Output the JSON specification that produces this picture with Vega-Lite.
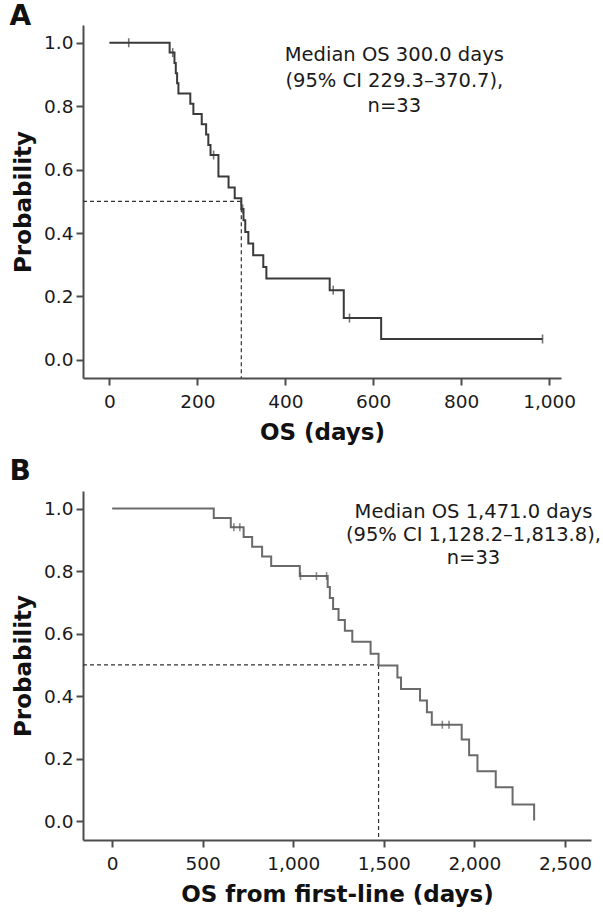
{
  "$schema": "https://vega.github.io/schema/vega-lite/v6.json",
  "background": "white",
  "padding": {"left": 9, "top": 3, "right": 0, "bottom": 0},
  "spacing": 13,
  "config": {
    "font": "DejaVu Sans",
    "view": {"stroke": null},
    "axis": {
      "grid": false,
      "domainColor": "#4d4d4d",
      "domainWidth": 2,
      "tickColor": "#4d4d4d",
      "tickWidth": 2,
      "tickSize": 7,
      "labelFont": "DejaVu Sans",
      "labelFontSize": 18.5,
      "labelColor": "#1a1a1a",
      "titleFont": "DejaVu Sans",
      "titleFontSize": 23,
      "titleFontWeight": "bold",
      "titleColor": "#111111"
    },
    "axisY": {"titlePadding": 8, "labelPadding": 3},
    "axisX": {"titlePadding": 11, "labelPadding": 7, "labelFlush": false, "labelOverlap": false},
    "title": {"fontSize": 28, "fontWeight": "bold", "anchor": "start", "frame": "bounds", "color": "#111111", "font": "DejaVu Sans"}
  },
  "datasets": {
    "kmA": [
      {"time": 0, "surv": 1.0}, {"time": 137, "surv": 0.969}, {"time": 148, "surv": 0.936},
      {"time": 151, "surv": 0.904}, {"time": 154, "surv": 0.872}, {"time": 157, "surv": 0.840},
      {"time": 184, "surv": 0.808}, {"time": 191, "surv": 0.775}, {"time": 210, "surv": 0.743},
      {"time": 220, "surv": 0.711}, {"time": 225, "surv": 0.678}, {"time": 230, "surv": 0.646},
      {"time": 248, "surv": 0.578}, {"time": 271, "surv": 0.544}, {"time": 285, "surv": 0.510},
      {"time": 300, "surv": 0.476}, {"time": 305, "surv": 0.440}, {"time": 309, "surv": 0.403},
      {"time": 316, "surv": 0.367}, {"time": 327, "surv": 0.330}, {"time": 350, "surv": 0.293},
      {"time": 357, "surv": 0.257}, {"time": 501, "surv": 0.220}, {"time": 533, "surv": 0.132},
      {"time": 618, "surv": 0.066}, {"time": 985, "surv": 0.066}
    ],
    "censA": [
      {"time": 44, "surv": 1.0}, {"time": 144, "surv": 0.969}, {"time": 237, "surv": 0.646},
      {"time": 303, "surv": 0.476}, {"time": 509, "surv": 0.220}, {"time": 546, "surv": 0.132},
      {"time": 985, "surv": 0.066}
    ],
    "medA": [
      {"time": -60, "surv": 0.5, "seg": "h"}, {"time": 300, "surv": 0.5, "seg": "h"},
      {"time": 300, "surv": 0.5, "seg": "v"}, {"time": 300, "surv": -0.057, "seg": "v"}
    ],
    "noteA": [
      {"time": 648, "surv": 0.961, "label": "Median OS 300.0 days"},
      {"time": 648, "surv": 0.879, "label": "(95% CI 229.3–370.7),"},
      {"time": 648, "surv": 0.800, "label": "n=33"}
    ],
    "kmB": [
      {"time": 0, "surv": 1.0}, {"time": 561, "surv": 0.970}, {"time": 655, "surv": 0.940},
      {"time": 726, "surv": 0.909}, {"time": 773, "surv": 0.878}, {"time": 828, "surv": 0.847},
      {"time": 878, "surv": 0.816}, {"time": 1036, "surv": 0.784}, {"time": 1190, "surv": 0.749},
      {"time": 1202, "surv": 0.714}, {"time": 1220, "surv": 0.679}, {"time": 1250, "surv": 0.644},
      {"time": 1285, "surv": 0.609}, {"time": 1326, "surv": 0.574}, {"time": 1427, "surv": 0.536},
      {"time": 1471, "surv": 0.498}, {"time": 1575, "surv": 0.460}, {"time": 1595, "surv": 0.423},
      {"time": 1700, "surv": 0.386}, {"time": 1738, "surv": 0.349}, {"time": 1765, "surv": 0.309},
      {"time": 1930, "surv": 0.262}, {"time": 1971, "surv": 0.211}, {"time": 2017, "surv": 0.160},
      {"time": 2118, "surv": 0.109}, {"time": 2211, "surv": 0.054}, {"time": 2330, "surv": 0.003}
    ],
    "censB": [
      {"time": 672, "surv": 0.940}, {"time": 705, "surv": 0.940}, {"time": 1040, "surv": 0.784},
      {"time": 1128, "surv": 0.784}, {"time": 1184, "surv": 0.784}, {"time": 1823, "surv": 0.309},
      {"time": 1860, "surv": 0.309}
    ],
    "medB": [
      {"time": -161, "surv": 0.5, "seg": "h"}, {"time": 1471, "surv": 0.5, "seg": "h"},
      {"time": 1471, "surv": 0.5, "seg": "v"}, {"time": 1471, "surv": -0.0595, "seg": "v"}
    ],
    "noteB": [
      {"time": 1995, "surv": 0.990, "label": "Median OS 1,471.0 days"},
      {"time": 1995, "surv": 0.916, "label": "(95% CI 1,128.2–1,813.8),"},
      {"time": 1995, "surv": 0.842, "label": "n=33"}
    ]
  },
  "vconcat": [
    {
      "title": {"text": "A", "offset": -6, "dx": -3},
      "width": 478,
      "height": 353,
      "encoding": {
        "x": {"field": "time", "type": "quantitative",
              "scale": {"domain": [-60, 1027], "nice": false, "zero": false},
              "axis": {"values": [0, 200, 400, 600, 800, 1000], "format": ",d", "title": "OS (days)"}},
        "y": {"field": "surv", "type": "quantitative",
              "scale": {"domain": [-0.057, 1.056], "nice": false, "zero": false},
              "axis": {"values": [0, 0.2, 0.4, 0.6, 0.8, 1.0], "format": ".1f", "title": "Probability"}}
      },
      "layer": [
        {"data": {"name": "medA"}, "mark": {"type": "line", "color": "#333333", "strokeWidth": 1.2, "strokeDash": [4, 3]},
         "encoding": {"detail": {"field": "seg"}}},
        {"data": {"name": "kmA"}, "mark": {"type": "line", "interpolate": "step-after", "color": "#3a3a3a", "strokeWidth": 2}},
        {"data": {"name": "censA"}, "mark": {"type": "tick", "orient": "vertical", "color": "#3a3a3a", "size": 9, "thickness": 1.6}},
        {"data": {"name": "noteA"}, "mark": {"type": "text", "fontSize": 19.5, "color": "#1a1a1a", "font": "DejaVu Sans"},
         "encoding": {"text": {"field": "label"}}}
      ]
    },
    {
      "title": {"text": "B", "offset": 5, "dx": -3},
      "width": 508,
      "height": 349,
      "encoding": {
        "x": {"field": "time", "type": "quantitative",
              "scale": {"domain": [-161, 2644], "nice": false, "zero": false},
              "axis": {"values": [0, 500, 1000, 1500, 2000, 2500], "format": ",d", "title": "OS from first-line (days)"}},
        "y": {"field": "surv", "type": "quantitative",
              "scale": {"domain": [-0.0595, 1.056], "nice": false, "zero": false},
              "axis": {"values": [0, 0.2, 0.4, 0.6, 0.8, 1.0], "format": ".1f", "title": "Probability"}}
      },
      "layer": [
        {"data": {"name": "medB"}, "mark": {"type": "line", "color": "#333333", "strokeWidth": 1.2, "strokeDash": [4, 3]},
         "encoding": {"detail": {"field": "seg"}}},
        {"data": {"name": "kmB"}, "mark": {"type": "line", "interpolate": "step-after", "color": "#6a6a6a", "strokeWidth": 2}},
        {"data": {"name": "censB"}, "mark": {"type": "tick", "orient": "vertical", "color": "#5a5a5a", "size": 8, "thickness": 1.6}},
        {"data": {"name": "noteB"}, "mark": {"type": "text", "fontSize": 19.5, "color": "#1a1a1a", "font": "DejaVu Sans"},
         "encoding": {"text": {"field": "label"}}}
      ]
    }
  ]
}
